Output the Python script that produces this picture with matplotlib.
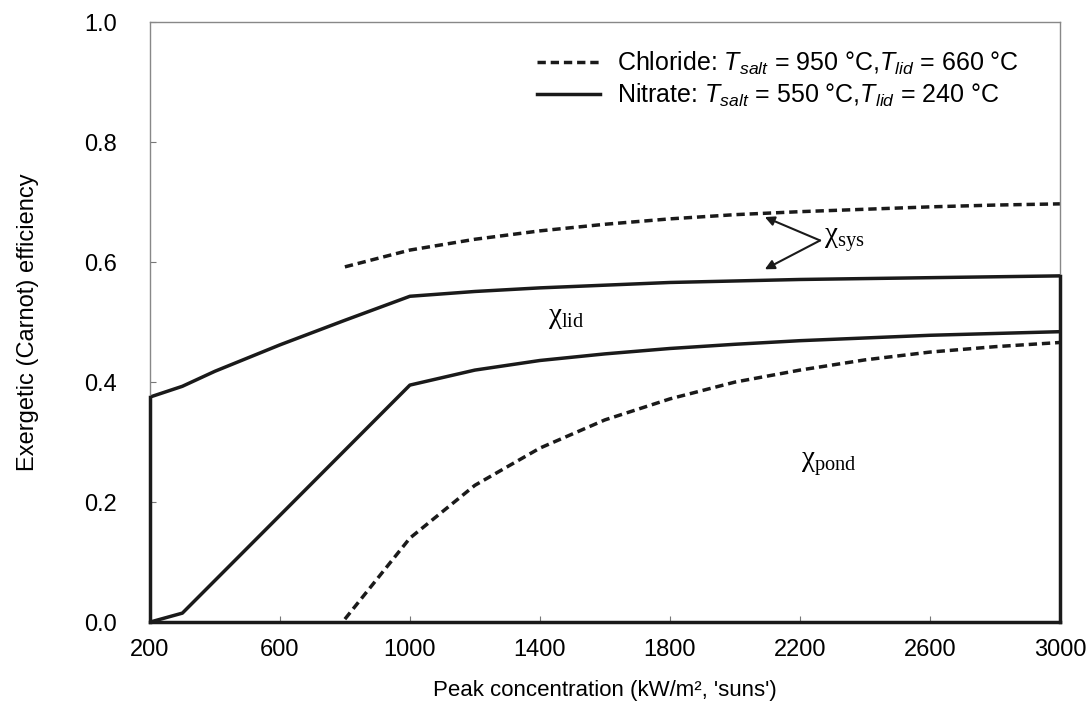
import matplotlib
matplotlib.use("Agg")
import matplotlib.pyplot as plt

plt.rcParams['font.family'] = ['Liberation Sans', 'DejaVu Sans']
plt.rcParams['mathtext.fontset'] = 'custom'
plt.rcParams['mathtext.rm'] = 'Liberation Serif'
plt.rcParams['mathtext.it'] = 'Liberation Sans:italic'
plt.rcParams['mathtext.bf'] = 'Liberation Sans:bold'

# Data
chl_sys_x = [800, 1000, 1200, 1400, 1600, 1800, 2000, 2200, 2400, 2600, 2800, 3000]
chl_sys_y = [0.592, 0.620, 0.638, 0.652, 0.663, 0.672, 0.679, 0.684, 0.688, 0.692, 0.695, 0.697]
chl_pond_x = [800, 1000, 1200, 1400, 1600, 1800, 2000, 2200, 2400, 2600, 2800, 3000]
chl_pond_y = [0.005, 0.140, 0.228, 0.290, 0.337, 0.372, 0.400, 0.420, 0.437, 0.450, 0.459, 0.466]
nit_sys_x = [200, 300, 400, 600, 800, 1000, 1200, 1400, 1800, 2200, 2600, 3000]
nit_sys_y = [0.375, 0.393, 0.418, 0.462, 0.503, 0.543, 0.551, 0.557, 0.566, 0.571, 0.574, 0.577]
nit_pond_x = [200, 300, 1000, 1200, 1400, 1600, 1800, 2000, 2200, 2600, 3000]
nit_pond_y = [0.000, 0.015, 0.395, 0.420, 0.436, 0.447, 0.456, 0.463, 0.469, 0.478, 0.484]
x_ticks = [200, 600, 1000, 1400, 1800, 2200, 2600, 3000]
y_ticks = [0.0, 0.2, 0.4, 0.6, 0.8, 1.0]

fig = plt.figure(figsize=(10.86, 7.11), dpi=100)
ax = fig.add_axes([0.138, 0.125, 0.838, 0.844])

lw = 2.5
dash = (2.4, 1.4)
ax.plot(chl_sys_x, chl_sys_y, color='#1a1a1a', lw=lw, dashes=dash,
        label=r'Chloride: $T_{salt}$ = 950 °C,$T_{lid}$ = 660 °C')
ax.plot(chl_pond_x, chl_pond_y, color='#1a1a1a', lw=lw, dashes=dash)
ax.plot(nit_sys_x, nit_sys_y, color='#1a1a1a', lw=lw,
        label=r'Nitrate: $T_{salt}$ = 550 °C,$T_{lid}$ = 240 °C')
ax.plot(nit_pond_x, nit_pond_y, color='#1a1a1a', lw=lw)
# closing edges of nitrate region
ax.plot([nit_sys_x[0], nit_sys_x[0]], [0, nit_sys_y[0]], color='#1a1a1a', lw=lw,
        clip_on=False, zorder=3)
ax.plot([nit_sys_x[0], nit_sys_x[-1]], [0, 0], color='#1a1a1a', lw=lw,
        clip_on=False, zorder=3)
ax.plot([nit_sys_x[-1], nit_sys_x[-1]], [0, nit_sys_y[-1]], color='#1a1a1a', lw=lw,
        clip_on=False, zorder=3)

ax.set_xlim(200, 3000)
ax.set_ylim(0, 1.0)
ax.set_xticks(x_ticks)
ax.set_yticks(y_ticks)
ax.set_xticklabels([str(v) for v in x_ticks])
ax.set_yticklabels([f'{v:.1f}' for v in y_ticks])
ax.tick_params(direction='in', length=4, width=0.8, color='#777777', labelsize=17)
ax.tick_params(axis='x', pad=12)
ax.tick_params(axis='y', pad=24)
for s in ax.spines.values():
    s.set_color('#888888')
    s.set_linewidth(1.0)

ax.set_xlabel("Peak concentration (kW/m², 'suns')", fontsize=16, labelpad=14)
ax.set_ylabel("Exergetic (Carnot) efficiency", fontsize=17, labelpad=32)

leg = ax.legend(loc='upper right', frameon=False, fontsize=18, handlelength=2.5,
                handletextpad=0.7, labelspacing=0.22, bbox_to_anchor=(0.980, 0.992))

# annotations
for tip in [(2092, 0.675), (2092, 0.588)]:
    ax.annotate('', xy=tip, xytext=(2262, 0.636),
                arrowprops=dict(arrowstyle='-|>', lw=1.5, color='#1a1a1a',
                                mutation_scale=14, shrinkA=0, shrinkB=0))
ax.text(2275, 0.636, r'$\mathrm{\chi}_{\mathrm{sys}}$', fontsize=21, va='center', ha='left')
ax.text(1480, 0.508, r'$\mathrm{\chi}_{\mathrm{lid}}$', fontsize=21, va='center', ha='center')
ax.text(2290, 0.262, r'$\mathrm{\chi}_{\mathrm{pond}}$', fontsize=21, va='center', ha='center')

fig.savefig('out.png', dpi=100)
